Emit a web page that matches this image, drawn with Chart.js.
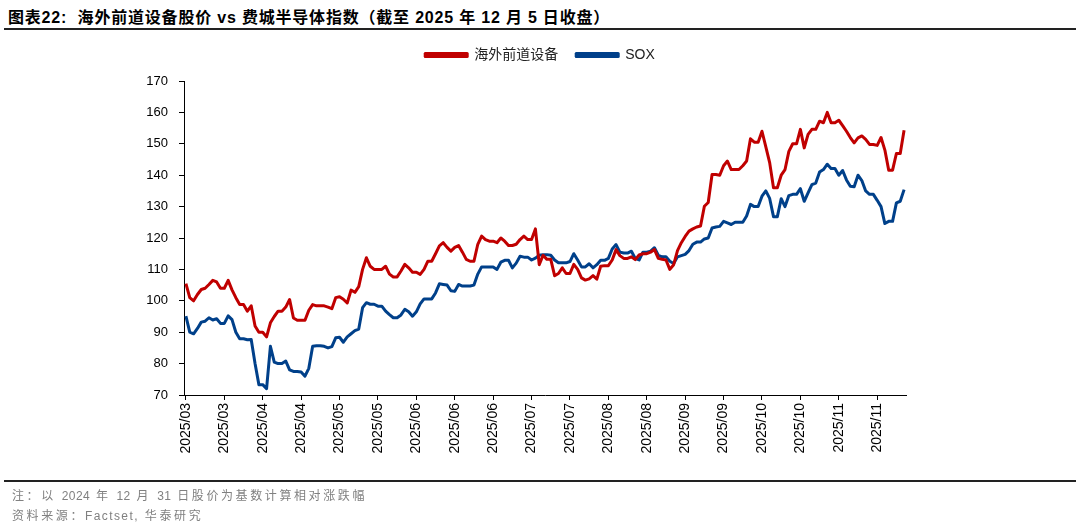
<!DOCTYPE html>
<html lang="zh-CN">
<head>
<meta charset="UTF-8">
<script src="https://cdn.jsdelivr.net/npm/chart.js"></script>
<title>海外前道设备股价 vs 费城半导体指数</title>
<style>
  body { margin: 0; width: 1080px; height: 529px; background: #fff; position: relative; overflow: hidden;
         font-family: "Liberation Sans", "Noto Sans CJK SC", sans-serif; }
  #titulo { position: absolute; left: 8px; top: 4px; font-size: 16px; font-weight: bold; color: #000; white-space: nowrap; letter-spacing: 0.8px; }
  .linha { position: absolute; left: 4px; right: 4px; height: 2px; background: #222; }
  .nota { position: absolute; left: 12px; font-size: 12px; color: #808080; letter-spacing: 2.6px; white-space: nowrap; }
  .nota span { letter-spacing: 0.4px; }
  .nota span.lat { letter-spacing: 1.4px; }
  #grafico { position: absolute; left: 0; top: 0; }
</style>
</head>
<body>
  <div id="titulo">图表22:&nbsp; 海外前道设备股价 vs 费城半导体指数（截至 2025 年 12 月 5 日收盘）</div>
  <div class="linha" style="top:28px"></div>
  <canvas id="grafico" width="1080" height="529"></canvas>
  <div class="linha" style="top:480px"></div>
  <div class="nota" style="top:486px">注：以 <span>2024</span> 年 <span>12</span> 月 <span>31</span> 日股价为基数计算相对涨跌幅</div>
  <div class="nota" style="top:506px">资料来源：<span class="lat">Factset,</span> 华泰研究</div>

<script>
// eixo x: um ponto por pregao, rotulo a cada 10 pregoes
const xTickLabels = ['2025/03','2025/03','2025/04','2025/04','2025/05','2025/05','2025/06','2025/06','2025/06',
  '2025/07','2025/07','2025/08','2025/08','2025/09','2025/09','2025/10','2025/10','2025/11','2025/11'];
const yTicks = [70, 80, 90, 100, 110, 120, 130, 140, 150, 160, 170];

// 海外前道设备
const equip = [
  105.5,101,100,102,103.6,104,105.2,106.5,106,104,
  104,106.5,103.5,101,98.8,98.8,96.7,98.4,92,90,
  90,88.5,93,95,96.7,96.7,98,100.4,94.5,93.8,
  93.8,93.8,97,98.8,98.4,98.4,98.4,98,97.5,101,
  101.3,100.5,99.3,103.4,102.7,104.5,110,113.7,111,110,
  110,110,111,108.5,107.6,107.6,109.5,111.6,110.5,109.1,
  109.1,108.4,110,112.6,112.6,115,117.5,118.5,117,115.8,
  117,117.6,115.5,113.2,112.6,112.6,118,120.6,119.5,119,
  119,118.5,120,119,117.6,117.6,118,119.5,120.6,119.5,
  119.5,122.9,111.5,114.5,113.2,113.2,108,108.7,110.5,108.7,
  108.7,111.6,110,107.3,106.6,107,108,106.9,111,111.2,
  111.2,113,116.3,114.4,113.5,113.5,114,113.1,114.6,115,
  115,115.5,116.3,113.5,113.2,113,110,111.5,116,118.5,
  120.5,122.2,122.9,123.5,123.8,130.1,131.3,140.2,140.2,140,
  143,144.5,141.8,141.8,141.8,143,144.5,151.6,150.5,150.5,
  154,149,144,136,136,140,141.8,147.6,150,150,
  154.6,148.7,153,154.6,154.6,157.2,156.7,160,156.7,156.7,
  157.5,155.8,154,152,150.3,151.9,152.5,151.4,149.8,149.8,
  149.5,152,148,141.6,141.6,146.9,146.9,154.3
];

// SOX
const sox = [
  95.1,90,89.5,91.2,93.2,93.5,94.6,93.9,94.3,92.8,
  92.8,95.2,94,90,87.9,87.9,87.6,87.7,80,73.3,
  73.3,72,85.5,80.5,80,80,80.8,78,77.5,77.5,
  77.3,76,78.5,85.5,85.7,85.7,85.5,85,85.4,88.2,
  88.4,86.8,88.5,89.5,90.5,91,97.8,99.4,98.9,98.9,
  98.3,98.3,96.7,95.6,94.6,94.6,95.5,97.3,96.5,95.1,
  96.5,99,100.6,100.6,100.6,102.5,105.4,105.2,105,103.2,
  103,105.2,104.7,104.7,104.7,105,108.5,110.8,110.8,110.8,
  110.8,110,112.3,112.9,112.9,110.5,112,114.2,113.9,113.9,
  113,113.6,114.5,114.7,114.7,114.5,113,112.1,112.1,112.1,
  112.5,115,113,110.8,110.8,111.8,110.5,111.5,112.9,112.9,
  113.5,116.5,117.9,115.5,115.2,115.2,115.8,113.5,113,115.5,
  115.5,115.8,116.9,114.5,114,114,112.6,111.9,114,114.4,
  114.8,116,118,118.7,118.7,119.7,120,123.2,123.5,123.7,
  125.3,124.8,124.3,125,125,125,127,130.7,130,130,
  133.3,135,132.6,126.8,126.8,132.5,130,133.5,133.9,133.9,
  135.7,131.7,134.4,137,137.5,141,141.8,143.5,142.1,142.1,
  140,141.5,138.5,136.5,136.3,140,138.3,135,133.9,133.9,
  132,130,124.6,125.3,125.3,131.2,131.7,135.4
];

const pontos = arr => arr.map((v, i) => ({ x: i, y: v }));
const fonte = '"Liberation Sans", "Noto Sans CJK SC", sans-serif';

// afasta a area do grafico da legenda
const espacoLegenda = {
  id: 'espacoLegenda',
  beforeInit(chart) {
    const fitOrig = chart.legend.fit;
    chart.legend.fit = function () {
      fitOrig.bind(chart.legend)();
      this.height += 9;
    };
  }
};

const ctx = document.getElementById('grafico');
const grafico = new Chart(ctx, {
  type: 'line',
  data: {
    datasets: [
      { label: '海外前道设备', data: pontos(equip), borderColor: '#C00000', backgroundColor: '#C00000',
        borderWidth: 3, pointRadius: 0, tension: 0, borderJoinStyle: 'round' },
      { label: 'SOX', data: pontos(sox), borderColor: '#00408A', backgroundColor: '#00408A',
        borderWidth: 3, pointRadius: 0, tension: 0, borderJoinStyle: 'round' }
    ]
  },
  options: {
    responsive: false,
    animation: false,
    layout: { padding: { left: 0, right: 0, top: 30, bottom: 64 } },
    plugins: {
      legend: {
        labels: { boxWidth: 42, boxHeight: 3, padding: 18, color: '#222', font: { family: fonte, size: 14 } }
      },
      tooltip: { enabled: false }
    },
    scales: {
      x: {
        type: 'linear',
        min: -0.5,
        max: equip.length - 0.5,
        afterBuildTicks: s => { s.ticks = xTickLabels.map((t, k) => ({ value: k * 10 })); },
        afterFit: s => { s.height = 70; },
        ticks: {
          autoSkip: false, minRotation: 90, maxRotation: 90, padding: 3, color: '#000',
          font: { family: fonte, size: 14 },
          callback: (v, i) => xTickLabels[i]
        },
        grid: { drawOnChartArea: false, drawTicks: true, tickLength: 5, color: '#000' },
        border: { display: true, color: '#000', width: 1 }
      },
      y: {
        min: 70, max: 170,
        afterBuildTicks: s => { s.ticks = yTicks.map(v => ({ value: v })); },
        afterFit: s => { s.width = 184; },
        ticks: { padding: 11, color: '#000', font: { family: fonte, size: 13 } },
        grid: { drawOnChartArea: false, drawTicks: true, tickLength: 5, color: '#000' },
        border: { display: true, color: '#000', width: 1 }
      },
      // eixo vazio a direita, so para reservar a margem
      dir: {
        position: 'right', display: true, min: 0, max: 1,
        afterFit: s => { s.width = 174; },
        ticks: { display: false },
        grid: { display: false },
        border: { display: false }
      }
    }
  },
  plugins: [espacoLegenda]
});
</script>
</body>
</html>
